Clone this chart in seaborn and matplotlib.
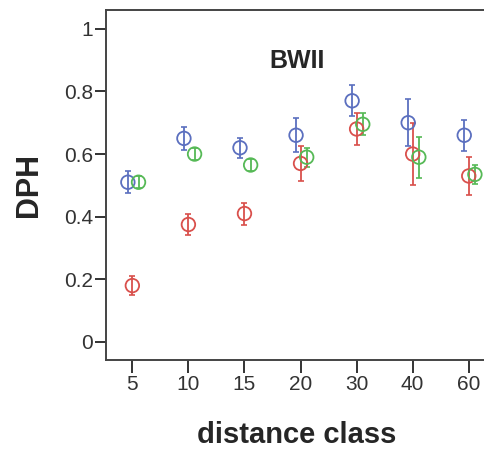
import numpy as np
import pandas as pd
import matplotlib
matplotlib.use("Agg")
import matplotlib.pyplot as plt
import seaborn as sns

# Distance classes and DPH estimates (mean, half-width of the error bar)
classes = ["5", "10", "15", "20", "30", "40", "60"]
groups = ["blue", "red", "green"]

dph_blue = [0.51, 0.65, 0.62, 0.66, 0.77, 0.70, 0.66]
err_blue = [0.035, 0.037, 0.032, 0.055, 0.050, 0.075, 0.050]

dph_red = [0.18, 0.375, 0.41, 0.57, 0.68, 0.60, 0.53]
err_red = [0.030, 0.035, 0.035, 0.055, 0.050, 0.100, 0.060]

dph_green = [0.51, 0.60, 0.565, 0.59, 0.695, 0.59, 0.535]
err_green = [0.020, 0.020, 0.020, 0.030, 0.035, 0.065, 0.030]

colors = {"blue": "#5b6fbf", "red": "#d9504c", "green": "#56b956"}
offsets = {"blue": -0.08, "red": 0.0, "green": 0.11}

frames = []
for g, m, e in [("blue", dph_blue, err_blue), ("red", dph_red, err_red),
                ("green", dph_green, err_green)]:
    frames.append(pd.DataFrame({"cls": classes, "group": g, "dph": m, "err": e}))
df = pd.concat(frames, ignore_index=True)
df["pos"] = df["cls"].map({c: i for i, c in enumerate(classes)}) + df["group"].map(offsets)

sns.set_style("white")
plt.rcParams["font.family"] = ["Liberation Sans", "DejaVu Sans"]

fig = plt.figure(figsize=(4.84, 4.53), dpi=100)
ax = fig.add_axes([0.219, 0.205, 0.79, 0.773])

for g in groups:
    sub = df[df["group"] == g]
    ax.errorbar(sub["pos"], sub["dph"], yerr=sub["err"], fmt="none",
                ecolor=colors[g], elinewidth=1.3, capsize=2, capthick=1.2, zorder=2)

sns.scatterplot(data=df, x="pos", y="dph", hue="group", palette=colors,
                hue_order=groups, ax=ax, s=95, marker="o",
                linewidth=1.3, legend=False, zorder=3)
# open circles: edge in the group colour, hollow face
sc = ax.collections[-1]
sc.set_edgecolors([colors[g] for g in df["group"]])
sc.set_facecolors("none")

ax.set_xlim(-0.47, 6.35)
ax.set_ylim(-0.058, 1.06)
ax.set_xticks(range(len(classes)))
ax.set_xticklabels(classes)
ax.set_yticks([0, 0.2, 0.4, 0.6, 0.8, 1.0])
ax.set_yticklabels(["0", "0.2", "0.4", "0.6", "0.8", "1"])

ax.tick_params(axis="y", direction="out", length=8, width=1.4, color="#333333",
               labelsize=15, labelcolor="#333333", pad=1.5, left=True)
ax.tick_params(axis="x", direction="out", length=9.5, width=1.4, color="#333333",
               labelsize=15, labelcolor="#333333", pad=1.5, bottom=True)

for side in ["left", "bottom", "top"]:
    ax.spines[side].set_visible(True)
    ax.spines[side].set_color("#444444")
    ax.spines[side].set_linewidth(1.4)
ax.spines["right"].set_visible(False)

ax.set_xlabel("distance class", fontsize=21, fontweight="bold", labelpad=19)
ax.set_ylabel("DPH", fontsize=22, fontweight="bold", labelpad=14)

ax.text(0.5, 0.855, "BWII", transform=ax.transAxes, ha="center", va="center",
        fontsize=18, fontweight="bold")

fig.savefig("out.png", dpi=100)
